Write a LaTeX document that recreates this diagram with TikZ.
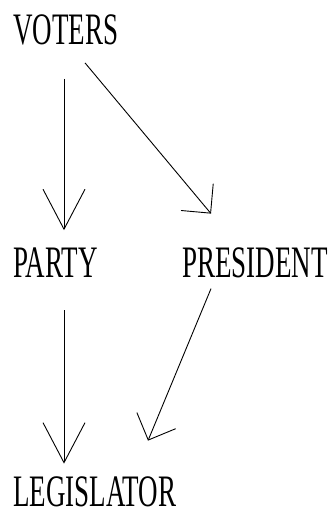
\documentclass[tikz,border=0pt]{standalone}
\usepackage{fontspec}
\usepackage{graphicx}
\setmainfont{Liberation Serif}
\newcommand\narrow[1]{\scalebox{0.6}[1]{#1}}
\usetikzlibrary{arrows.meta,positioning}

\begin{document}
\begin{tikzpicture}[
  x=1pt, y=1pt,
  word/.style  = {inner sep=0pt, anchor=base west,
                  font=\rmfamily\fontsize{45}{54}\selectfont},
  downarr/.style  = {-{Straight Barb[length=40pt,width=42pt]}, line width=0.9pt},
  slantarr/.style = {-{Straight Barb[length=21pt,width=42pt]}, line width=0.9pt}
]
\useasboundingbox (0,0) rectangle (333,513);
\node[word] (voters)     at (13,468) {\narrow{VOTERS}};
\node[word] (party)      at (13,235) {\narrow{PARTY}};
\node[word] (president)  at (182,235) {\narrow{PRESIDENT}};
\node[word] (legislator) at (13,6)   {\narrow{LEGISLATOR}};
\draw[downarr]  ([shift={(51,-33)}]voters.south west)  -- ([shift={(51,48)}]party.south west);
\draw[slantarr] ([shift={(72,-17)}]voters.south west)  -- ([shift={(29,65)}]president.south west);
\draw[downarr]  ([shift={(51,-32)}]party.south west)   -- ([shift={(51,44)}]legislator.south west);
\draw[slantarr] ([shift={(29,-10)}]president.south west) -- ([shift={(135,67)}]legislator.south west);
\end{tikzpicture}
\end{document}
